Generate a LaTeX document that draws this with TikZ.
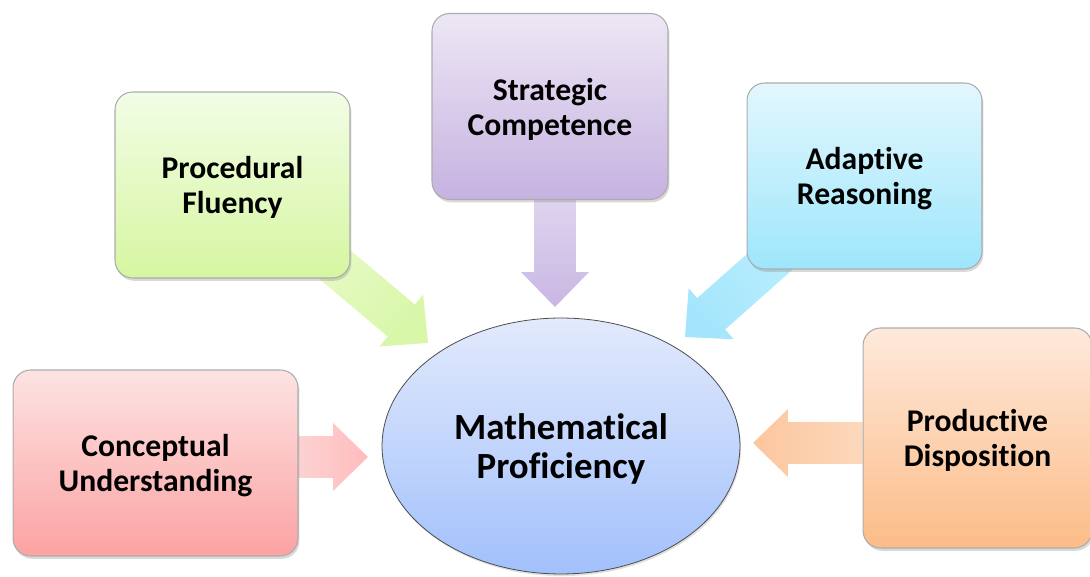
\documentclass[tikz,border=0pt]{standalone}
\usepackage{fontspec}
\setmainfont{Carlito}[Ligatures=NoCommon]
\usetikzlibrary{calc,shadows,shapes.geometric,backgrounds}

% box fills (top / bottom)
\definecolor{cuTop}{HTML}{FDE3E3}
\definecolor{cuBot}{HTML}{FCA2A2}
\definecolor{pfTop}{HTML}{F2FDE6}
\definecolor{pfBot}{HTML}{D6F6A0}
\definecolor{scTop}{HTML}{EDE7F5}
\definecolor{scBot}{HTML}{C6B2E0}
\definecolor{arTop}{HTML}{E3F7FD}
\definecolor{arBot}{HTML}{9EE6FC}
\definecolor{pdTop}{HTML}{FEE9DB}
\definecolor{pdBot}{HTML}{FCBC88}
\definecolor{mpTop}{HTML}{E2EAFC}
\definecolor{mpBot}{HTML}{A2C0FC}
% arrow fills (tail / tip)
\definecolor{cuArrA}{HTML}{FDD2D2}
\definecolor{cuArrB}{HTML}{FFBCBC}
\definecolor{pfArrA}{HTML}{E6FAC6}
\definecolor{pfArrB}{HTML}{D8F7A8}
\definecolor{scArrA}{HTML}{DED4EE}
\definecolor{scArrB}{HTML}{C9B7E3}
\definecolor{arArrA}{HTML}{B8EEFD}
\definecolor{arArrB}{HTML}{A4E5FC}
\definecolor{pdArrA}{HTML}{FCD8BC}
\definecolor{pdArrB}{HTML}{FCC69E}

\def\bodyhw{0.42cm}
\def\headhw{0.68cm}
\def\headlen{0.70cm}

% block arrow from #1 to #2, shaded from #3 (tail) to #4 (tip)
\newcommand\strandarrow[4]{%
  \pgfmathanglebetweenpoints{\pgfpointanchor{#1}{center}}{\pgfpointanchor{#2}{center}}%
  \pgfmathsetmacro\arrowshade{\pgfmathresult-90}%
  \coordinate (#1-neck) at ($(#2)!\headlen!(#1)$);
  \shade[bottom color=#3, top color=#4, shading angle=\arrowshade]
    ($(#1)!\bodyhw!90:(#2)$) -- ($(#1-neck)!\bodyhw!-90:(#1)$)
    -- ($(#1-neck)!\headhw!-90:(#1)$) -- (#2)
    -- ($(#1-neck)!\headhw!90:(#1)$) -- ($(#1-neck)!\bodyhw!90:(#1)$)
    -- ($(#1)!\bodyhw!-90:(#2)$) -- cycle;
}

\tikzset{
  strand/.style={rounded corners=10pt, draw=gray!65, line width=0.6pt,
    align=center, text=black, font=\fontsize{18}{20}\selectfont\bfseries,
    minimum height=3.72cm, text depth=0pt,
    drop shadow={opacity=0.3, shadow xshift=0.8pt, shadow yshift=-1.6pt}},
  core/.style={ellipse, draw=gray!60!black, line width=0.45pt, align=center,
    text=black, font=\fontsize{21}{22}\selectfont\bfseries,
    minimum width=7.16cm, minimum height=5.12cm, text depth=0pt,
    drop shadow={opacity=0.25, shadow xshift=0.6pt, shadow yshift=-1.2pt}},
}

\begin{document}
\begin{tikzpicture}[x=0.02cm, y=-0.02cm]
  \useasboundingbox (0,0) rectangle (1090,577);

  % the five strands
  \node[strand, minimum width=5.7cm, top color=cuTop, bottom color=cuBot]
    (cu) at (155.5,463) {Conceptual\\Understanding};
  \node[strand, minimum width=4.7cm, top color=pfTop, bottom color=pfBot]
    (pf) at (232.5,185) {Procedural\\Fluency};
  \node[strand, minimum width=4.72cm, top color=scTop, bottom color=scBot]
    (sc) at (550,106.5) {Strategic\\Competence};
  \node[strand, minimum width=4.7cm, top color=arTop, bottom color=arBot]
    (ar) at (864.5,176) {Adaptive\\Reasoning};
  \node[strand, minimum width=4.58cm, minimum height=4.4cm, top color=pdTop, bottom color=pdBot]
    (pd) at (977.5,438) {Productive\\Disposition};

  % centre
  \node[core, top color=mpTop, bottom color=mpBot] (mp) at (561,446) {Mathematical\\Proficiency};

  % arrow tips, tails tucked under the boxes
  \coordinate (cu-tip) at (368,457);
  \coordinate (pf-tip) at (428,343);
  \coordinate (sc-tip) at (555,307);
  \coordinate (ar-tip) at (685,337);
  \coordinate (pd-tip) at (753,443);
  \coordinate (cu-tail) at (cu.east |- cu-tip);
  \coordinate (pf-tail) at (321,253);
  \coordinate (sc-tail) at (sc.south -| sc-tip);
  \coordinate (ar-tail) at (782,251);
  \coordinate (pd-tail) at (pd.west |- pd-tip);

  \begin{scope}[on background layer]
    \strandarrow{cu-tail}{cu-tip}{cuArrA}{cuArrB}
    \strandarrow{pf-tail}{pf-tip}{pfArrA}{pfArrB}
    \strandarrow{sc-tail}{sc-tip}{scArrA}{scArrB}
    \strandarrow{ar-tail}{ar-tip}{arArrA}{arArrB}
    \strandarrow{pd-tail}{pd-tip}{pdArrA}{pdArrB}
  \end{scope}
\end{tikzpicture}
\end{document}
